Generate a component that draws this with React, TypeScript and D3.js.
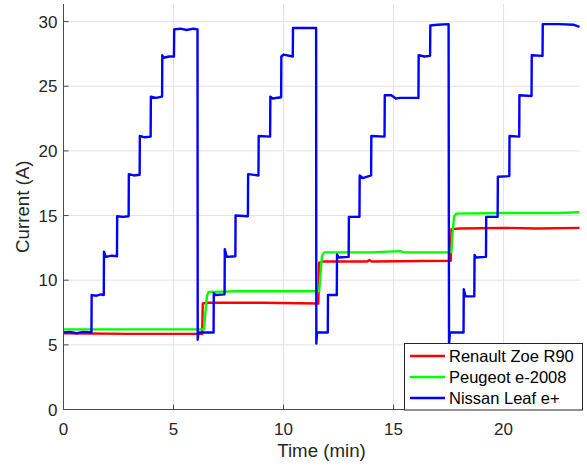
import React from 'react';
import * as d3 from 'd3';

// [time (min), current (A)]
const renaultZoe: [number, number][] = [
  [0, 5.9], [3, 5.85], [6.3, 5.85], [6.33, 8.2], [6.5, 8.25], [9, 8.25], [11.58, 8.2],
  [11.62, 11.35], [11.8, 11.45], [13.8, 11.45], [13.9, 11.55], [14, 11.45], [17.6, 11.5],
  [17.63, 13.95], [18, 14.0], [20, 14.05], [21.5, 14.0], [23.45, 14.05],
];

const peugeot2008: [number, number][] = [
  [0, 6.2], [3, 6.2], [6.38, 6.2], [6.45, 7.5], [6.52, 8.8], [6.6, 9.1], [8, 9.15], [11.62, 9.15],
  [11.68, 10.5], [11.75, 11.9], [11.85, 12.15], [14, 12.15], [15.3, 12.25], [15.5, 12.15], [17.62, 12.15],
  [17.68, 13.6], [17.75, 14.9], [17.85, 15.15], [20, 15.2], [22.5, 15.2], [23.45, 15.25],
];

const nissanLeaf: [number, number][] = [
  [0, 5.95], [0.3, 6.0], [0.6, 5.9], [0.9, 6.0], [1.27, 5.95],
  [1.28, 8.85], [1.5, 8.8], [1.7, 8.9], [1.83, 8.85],
  [1.84, 12.2], [1.92, 11.8], [2.2, 11.9], [2.43, 11.85],
  [2.44, 14.95], [2.7, 14.9], [2.96, 14.95],
  [2.97, 18.2], [3.2, 18.1], [3.46, 18.15],
  [3.47, 21.15], [3.7, 21.05], [3.96, 21.1],
  [3.97, 24.2], [4.2, 24.1], [4.48, 24.2],
  [4.49, 27.4], [4.55, 27.2], [4.8, 27.3], [5.02, 27.3],
  [5.03, 29.4], [5.3, 29.45], [5.6, 29.35], [5.9, 29.45], [6.09, 29.4],
  [6.1, 5.4], [6.13, 5.95], [6.5, 5.95], [6.82, 5.95],
  [6.83, 9.0], [6.9, 8.85], [7.32, 8.9],
  [7.33, 12.4], [7.42, 11.8], [7.81, 11.85],
  [7.82, 15.0], [8.38, 14.95],
  [8.39, 18.2], [8.86, 18.1],
  [8.87, 21.15], [9.39, 21.1],
  [9.4, 24.2], [9.5, 24.05], [9.89, 24.15],
  [9.9, 27.3], [10.0, 27.45], [10.42, 27.3],
  [10.43, 29.5], [11.0, 29.5], [11.48, 29.5],
  [11.49, 5.1], [11.52, 5.95], [12.01, 5.95],
  [12.02, 8.85], [12.42, 8.85],
  [12.43, 12.0], [12.5, 11.75], [12.96, 11.8],
  [12.97, 14.9], [13.45, 14.9],
  [13.46, 18.1], [13.6, 17.9], [13.98, 18.1],
  [13.99, 21.15], [14.59, 21.1],
  [14.6, 24.3], [14.9, 24.3], [15.1, 24.05], [15.3, 24.1], [16.13, 24.1],
  [16.14, 27.4], [16.4, 27.3], [16.66, 27.35],
  [16.67, 29.7], [17.0, 29.75], [17.5, 29.8],
  [17.52, 5.0], [17.56, 5.95], [18.18, 5.95],
  [18.19, 9.3], [18.27, 8.75], [18.67, 8.75],
  [18.68, 11.95], [18.75, 11.75], [19.2, 11.8],
  [19.21, 14.9], [19.73, 14.9],
  [19.74, 18.0], [20.26, 18.05],
  [20.27, 21.15], [20.71, 21.1],
  [20.72, 24.3], [21.27, 24.25],
  [21.28, 27.4], [21.77, 27.35],
  [21.78, 29.8], [22.5, 29.8], [23.2, 29.75], [23.45, 29.6],
];

const seriesNames = ['Renault Zoe R90', 'Peugeot e-2008', 'Nissan Leaf e+'];
const seriesColors = ['#ff0000', '#00ff00', '#0000ff'];
const xTicks = [0, 5, 10, 15, 20];
const yTicks = [0, 5, 10, 15, 20, 25, 30];

const W = 587;
const H = 466;
const margin = { top: 4, right: 7.5, bottom: 56.5, left: 63.5 };
const FONT = '"Liberation Sans", Arial, Helvetica, sans-serif';
const TXT = '#262626';

export default function App() {
  const x = d3.scaleLinear().domain([0, 23.45]).range([margin.left, W - margin.right]);
  const y = d3.scaleLinear().domain([0, 31.36]).range([H - margin.bottom, margin.top]);

  const line = d3.line<[number, number]>()
    .x(d => x(d[0]))
    .y(d => y(d[1]));

  const series = [renaultZoe, peugeot2008, nissanLeaf];
  const x0 = x.range()[0], x1 = x.range()[1];
  const y0 = y.range()[0], y1 = y.range()[1];

  // legend box
  const lg = { x: 404.5, y: 343.5, w: 178, h: 66.5 };

  return (
    <svg width={W} height={H} style={{ position: 'absolute', left: 0, top: 0, background: '#fff' }}
      fontFamily={FONT}>
      {/* grid */}
      <g stroke="#e3e3e3" strokeWidth={1}>
        {xTicks.filter(t => t > 0).map(t => (
          <line key={'gx' + t} x1={x(t)} x2={x(t)} y1={y1} y2={y0} />
        ))}
        {yTicks.filter(t => t > 0).map(t => (
          <line key={'gy' + t} x1={x0} x2={x1} y1={y(t)} y2={y(t)} />
        ))}
      </g>

      {/* data lines */}
      {series.map((s, i) => (
        <path key={i} d={line(s) || ''} fill="none" stroke={seriesColors[i]}
          strokeWidth={2.4} strokeLinejoin="round" />
      ))}

      {/* axes */}
      <g stroke="#4a4a4a" strokeWidth={1}>
        <line x1={x0} x2={x0} y1={y1} y2={y0} />
        <line x1={x0} x2={x1} y1={y0} y2={y0} />
        {xTicks.map(t => (
          <line key={'tx' + t} x1={x(t)} x2={x(t)} y1={y0} y2={y0 - 5} />
        ))}
        {yTicks.map(t => (
          <line key={'ty' + t} x1={x0} x2={x0 + 5} y1={y(t)} y2={y(t)} />
        ))}
      </g>

      {/* tick labels */}
      <g fill={TXT} fontSize={17}>
        {xTicks.map(t => (
          <text key={'lx' + t} x={x(t)} y={y0 + 25} textAnchor="middle">{t}</text>
        ))}
        {yTicks.map(t => (
          <text key={'ly' + t} x={x0 - 6} y={y(t) + 6} textAnchor="end">{t}</text>
        ))}
      </g>

      {/* axis labels */}
      <text x={(x0 + x1) / 2} y={456.5} textAnchor="middle" fontSize={18.7} fill={TXT}>Time (min)</text>
      <text transform={`translate(28.5,${(y0 + y1) / 2}) rotate(-90)`} textAnchor="middle"
        fontSize={18.7} fill={TXT}>Current (A)</text>

      {/* legend */}
      <g>
        <rect x={lg.x} y={lg.y} width={lg.w} height={lg.h} fill="#fff" stroke="#262626" strokeWidth={1} />
        {seriesNames.map((name, i) => {
          const cy = lg.y + 12.5 + i * 21;
          return (
            <g key={name}>
              <line x1={lg.x + 5.5} x2={lg.x + 40.5} y1={cy} y2={cy} stroke={seriesColors[i]} strokeWidth={2.4} />
              <text x={lg.x + 44.5} y={cy + 6} fontSize={16.5} fill="#000">{name}</text>
            </g>
          );
        })}
      </g>
    </svg>
  );
}
